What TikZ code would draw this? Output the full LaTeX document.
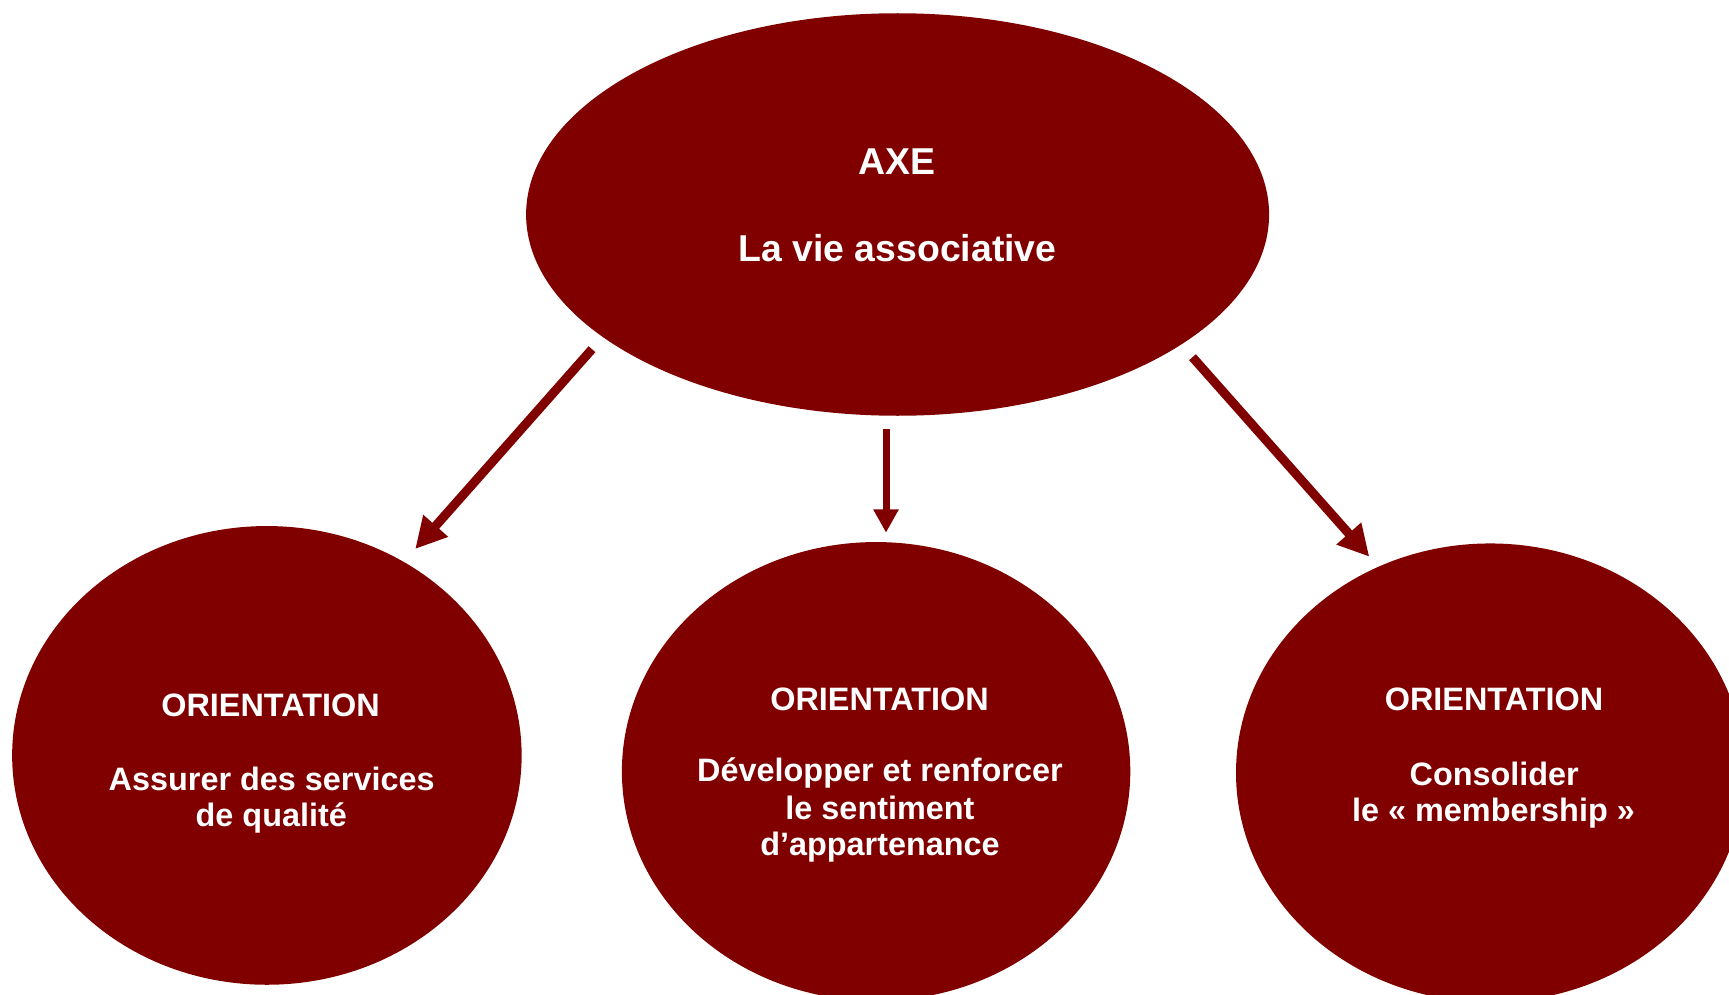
\documentclass[tikz,border=0pt]{standalone}
\usepackage{fontspec}
\setmainfont{Liberation Sans}
\usetikzlibrary{shapes.geometric,arrows.meta}
\definecolor{axered}{RGB}{128,0,0}
\begin{document}
\begin{tikzpicture}[x=0.5pt,y=-0.5pt,
  blob/.style={ellipse,fill=axered,draw=none,inner sep=0pt},
  bigtxt/.style={text=white,font=\bfseries\fontsize{18.7pt}{22pt}\selectfont,anchor=base,inner sep=0pt},
  smalltxt/.style={text=white,font=\bfseries\fontsize{16.2pt}{19pt}\selectfont,anchor=base,inner sep=0pt},
  diagarrow/.style={draw=axered,line width=4.5pt,-{Triangle[length=15.5pt,width=15.5pt]}},
  vertarrow/.style={draw=axered,line width=3.5pt,-{Triangle[length=11.7pt,width=12pt]}}]
\clip (0,0) rectangle (1729,995);
% ellipses
\node[blob,minimum width=371.5pt,minimum height=201.25pt] (axe) at (897.6,214.5) {};
\node[blob,minimum width=254.75pt,minimum height=229.35pt] (ol) at (266.9,755.4) {};
\node[blob,minimum width=254.2pt,minimum height=229.35pt] (om) at (876.1,771.4) {};
\node[blob,minimum width=254.2pt,minimum height=229.35pt] (or) at (1490.2,772.8) {};
% texts
\node[bigtxt] (axe1) at (897,174.3) {AXE};
\node[bigtxt] (axe2) at (897.5,261) {La vie associative};
\node[smalltxt] (ol1) at (270.5,716) {ORIENTATION};
\node[smalltxt] (ol2) at (271.7,790) {Assurer des services};
\node[smalltxt] (ol3) at (271.3,826.7) {de qualité};
\node[smalltxt] (om1) at (879.5,710) {ORIENTATION};
\node[smalltxt] (om2) at (880,781.7) {Développer et renforcer};
\node[smalltxt] (om3) at (880,819) {le sentiment};
\node[smalltxt] (om4) at (880,855) {d’appartenance};
\node[smalltxt] (or1) at (1494,710.7) {ORIENTATION};
\node[smalltxt] (or2) at (1494.2,785) {Consolider};
\node[smalltxt] (or3) at (1493.5,821.7) {le « membership »};
% arrow end points
\coordinate (als) at (592,349.2);
\coordinate (ale) at (415.2,549);
\coordinate (ams) at (886,429);
\coordinate (ame) at (886,532.7);
\coordinate (ars) at (1192.5,357.2);
\coordinate (are) at (1369.3,556.7);
\draw[diagarrow] (als) -- (ale);
\draw[vertarrow] (ams) -- (ame);
\draw[diagarrow] (ars) -- (are);
\end{tikzpicture}
\end{document}
